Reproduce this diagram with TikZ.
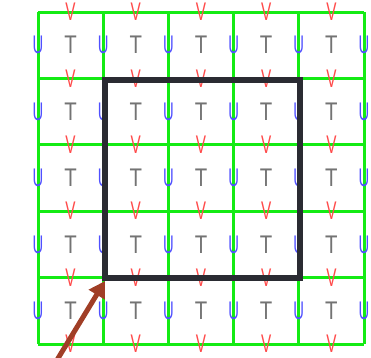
\documentclass[tikz,border=0pt]{standalone}
\usepackage{fontspec}
\setmainfont{Liberation Sans}
\usetikzlibrary{arrows.meta}
\definecolor{gridgreen}{RGB}{20,235,20}
\definecolor{vred}{RGB}{255,75,75}
\definecolor{ublue}{RGB}{80,80,255}
\definecolor{tgray}{RGB}{115,115,115}
\definecolor{framedark}{RGB}{42,43,50}
\definecolor{arrowbrown}{RGB}{160,62,38}
\tikzset{
  gridline/.style={draw=gridgreen, line width=3pt},
  letter/.style={inner sep=0pt, outer sep=0pt, anchor=center, font=\fontsize{25.5}{26}\selectfont},
  vletter/.style={letter, text=vred},
  uletter/.style={letter, text=ublue},
  tletter/.style={letter, text=tgray},
  framebox/.style={draw=framedark, line width=5.5pt, inner sep=0pt, minimum width=195pt, minimum height=198pt},
  pointer/.style={draw=arrowbrown, line width=5pt, -{Triangle[length=16pt, width=18pt]}}
}
\begin{document}
\begin{tikzpicture}[x=1pt, y=-1pt]
\useasboundingbox (0,0) rectangle (371,357);
% green grid
\foreach \i in {0,...,5} {
  \draw[gridline] ({38+65.2*\i},12) -- ({38+65.2*\i},344);
  \draw[gridline] (38,{12+66.4*\i}) -- (364,{12+66.4*\i});
}
% V letters on horizontal lines
\foreach \i in {0,...,4} {
  \foreach \j in {0,...,5} {
    \node[vletter] (v-\i-\j) at ({38+65.2*(\i+0.5)},{12+66.4*\j}) {\scalebox{0.6}[1]{V}};
  }
}
% U letters on vertical lines
\foreach \i in {0,...,5} {
  \foreach \j in {0,...,4} {
    \node[uletter] (u-\i-\j) at ({38+65.2*\i},{12+66.4*(\j+0.5)}) {\scalebox{0.58}[1]{U}};
  }
}
% T letters at cell centres
\foreach \i in {0,...,4} {
  \foreach \j in {0,...,4} {
    \node[tletter] (t-\i-\j) at ({38+65.2*(\i+0.5)},{12+66.4*(\j+0.5)}) {\scalebox{0.8}[1]{T}};
  }
}
% dark frame
\node[framebox] (frame) at (202.5,179) {};
% arrow
\coordinate (arrowstart) at (57,360);
\coordinate (arrowtip) at (105,281);
\draw[pointer] (arrowstart) -- (arrowtip);
\end{tikzpicture}
\end{document}
